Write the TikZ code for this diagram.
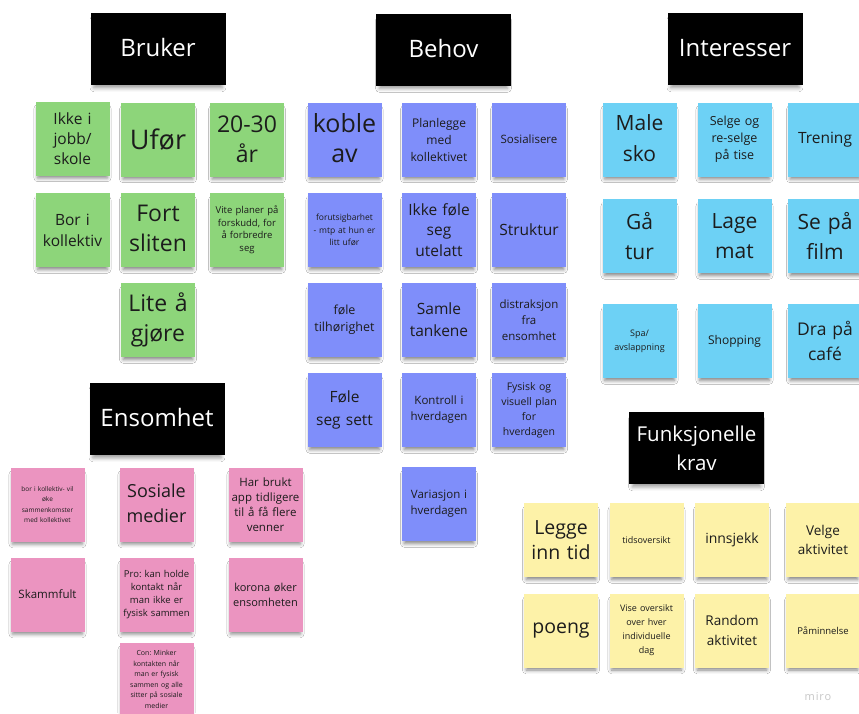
\documentclass[tikz,border=0pt]{standalone}
\usepackage{fontspec}
\setmainfont{Open Sans}
\usetikzlibrary{shadows.blur}
\frenchspacing
\definecolor{ink}{HTML}{1C1C1C}
\definecolor{sgreen}{HTML}{8DD57A}
\definecolor{sblue}{HTML}{7F8EFA}
\definecolor{scyan}{HTML}{6DD1F5}
\definecolor{spink}{HTML}{EB94C0}
\definecolor{syellow}{HTML}{FDF2A8}
\newcommand\fz[2]{\fontsize{#1}{#2}\selectfont}
\newcommand\up[1]{\raisebox{3pt}{#1}}
\tikzset{
  sticky/.style={fill=#1, minimum width=74pt, minimum height=74pt, text width=71pt,
    inner sep=1.5pt, align=center, text=ink,
    blur shadow={shadow xshift=0pt, shadow yshift=-5pt, shadow blur radius=4pt,
      shadow scale=0.94, shadow opacity=50}},
  header/.style={fill=black, minimum width=135pt, minimum height=72pt, text width=131pt,
    inner sep=2pt, align=center, text=white,
    blur shadow={shadow xshift=0pt, shadow yshift=-5pt, shadow blur radius=4pt,
      shadow scale=0.95, shadow opacity=40}},
  fs/.style 2 args={font=\fz{#1}{#2}},
}
\begin{document}
\begin{tikzpicture}[x=1pt,y=-1pt]
\useasboundingbox (0,0) rectangle (859,713);
\clip (0,0) rectangle (859,713);
\fill[white] (0,0) rectangle (859,713);
% headers
\node[header,fs={24}{30}] (hbruker) at (158,49) {\up{Bruker}};
\node[header,fs={24}{30}] (hbehov) at (443.5,49.5) {\up{Behov}};
\node[header,fs={24}{30}] (hinter) at (735,49) {\up{Interesser}};
\node[header,fs={24}{30}] (hensom) at (157,419) {\up{Ensomhet}};
\node[header,fs={20.5}{29}] (hfunk) at (696.5,448) {Funksjonelle\\krav};
% Bruker (green)
\node[sticky=sgreen,fs={15.5}{20}] (g1) at (72.5,138.5) {Ikke i\\jobb/\\skole};
\node[sticky=sgreen,fs={27}{32}] (g2) at (158,139.5) {Ufør};
\node[sticky=sgreen,fs={23}{30}] (g3) at (247,139.5) {20-30\\år};
\node[sticky=sgreen,fs={15.5}{21}] (g4) at (72.5,230) {Bor i\\kollektiv};
\node[sticky=sgreen,fs={23}{30}] (g5) at (158,230) {\up{Fort}\\\up{sliten}};
\node[sticky=sgreen,fs={9.5}{12.5}] (g6) at (247,230) {Vite planer på\\forskudd, for\\å forbredre\\seg};
\node[sticky=sgreen,fs={23}{30}] (g7) at (158,320) {Lite å\\gjøre};
% Behov (blue)
\node[sticky=sblue,fs={25}{30}] (b1) at (344.5,139.5) {\up{koble}\\\up{av}};
\node[sticky=sblue,fs={12}{17}] (b2) at (439,139.5) {Planlegge\\med\\kollektivet};
\node[sticky=sblue,fs={11.5}{15}] (b3) at (529,139.5) {Sosialisere};
\node[sticky=sblue,fs={8.5}{12.5}] (b4) at (344.5,230) {forutsigbarhet\\- mtp at hun er\\litt ufør};
\node[sticky=sblue,fs={15.5}{20.5}] (b5) at (439,230) {Ikke føle\\seg\\utelatt};
\node[sticky=sblue,fs={15.5}{20}] (b6) at (529,230) {Struktur};
\node[sticky=sblue,fs={12.5}{17}] (b7) at (344.5,320) {føle\\tilhørighet};
\node[sticky=sblue,fs={15.5}{22}] (b8) at (439,320) {Samle\\tankene};
\node[sticky=sblue,fs={11.5}{16}] (b9) at (529,320) {distraksjon\\fra\\ensomhet};
\node[sticky=sblue,fs={15.5}{23}] (b10) at (344.5,410) {Føle\\seg sett};
\node[sticky=sblue,fs={11.5}{16}] (b11) at (439,410) {Kontroll i\\hverdagen};
\node[sticky=sblue,fs={10.5}{15}] (b12) at (529,410) {Fysisk og\\visuell plan\\for\\hverdagen};
\node[sticky=sblue,fs={11.5}{16}] (b13) at (439,504) {Variasjon i\\hverdagen};
% Interesser (cyan)
\node[sticky=scyan,fs={21}{31}] (c1) at (639.5,139.5) {\up{Male}\\\up{sko}};
\node[sticky=scyan,fs={12.5}{17}] (c2) at (734.5,139.5) {Selge og\\re-selge\\på tise};
\node[sticky=scyan,fs={15.5}{20}] (c3) at (825,139.5) {Trening};
\node[sticky=scyan,fs={21}{30}] (c4) at (639.5,236) {Gå\\tur};
\node[sticky=scyan,fs={21}{30}] (c5) at (734.5,236) {Lage\\mat};
\node[sticky=scyan,fs={21}{30}] (c6) at (825,236) {Se på\\film};
\node[sticky=scyan,fs={9}{14}] (c7) at (639.5,341) {Spa/\\avslappning};
\node[sticky=scyan,fs={12}{16}] (c8) at (734.5,341) {Shopping};
\node[sticky=scyan,fs={17.5}{25}] (c9) at (825,341) {Dra på\\café};
% Ensomhet (pink)
\node[sticky=spink,fs={6.5}{10.5}] (p1) at (47.5,504.5) {bor i kollektiv- vil\\øke\\sammenkomster\\med kollektivet};
\node[sticky=spink,fs={18}{25}] (p2) at (156.5,504.5) {\up{Sosiale}\\\up{medier}};
\node[sticky=spink,fs={11.5}{15}] (p3) at (265.5,504.5) {Har brukt\\app tidligere\\til å få flere\\venner};
\node[sticky=spink,fs={11.5}{15}] (p4) at (47.5,594.5) {Skammfult};
\node[sticky=spink,fs={9.5}{13}] (p5) at (156.5,594.5) {Pro: kan holde\\kontakt når\\man ikke er\\fysisk sammen};
\node[sticky=spink,fs={11}{15}] (p6) at (265.5,594.5) {korona øker\\ensomheten};
\node[sticky=spink,fs={7}{10.5}] (p7) at (156.5,679.5) {Con: Minker\\kontakten når\\man er fysisk\\sammen og alle\\sitter på sosiale\\medier};
% Funksjonelle krav (yellow)
\node[sticky=syellow,fs={19.5}{25}] (y1) at (561,540) {Legge\\inn tid};
\node[sticky=syellow,fs={9}{12}] (y2) at (646.5,540) {tidsoversikt};
\node[sticky=syellow,fs={14}{18}] (y3) at (732,540) {innsjekk};
\node[sticky=syellow,fs={13.5}{19}] (y4) at (823,540) {Velge\\aktivitet};
\node[sticky=syellow,fs={19.5}{25}] (y5) at (561,630.5) {poeng};
\node[sticky=syellow,fs={9}{14}] (y6) at (646.5,630.5) {Vise oversikt\\over hver\\individuelle\\dag};
\node[sticky=syellow,fs={13.5}{20}] (y7) at (732,630.5) {Random\\aktivitet};
\node[sticky=syellow,fs={9.5}{12}] (y8) at (823,630.5) {Påminnelse};
% miro logo text
\node[text=black!22, inner sep=0pt, font=\fz{11}{13}\addfontfeatures{LetterSpace=8}] (miro) at (818,697) {miro};
\end{tikzpicture}
\end{document}
